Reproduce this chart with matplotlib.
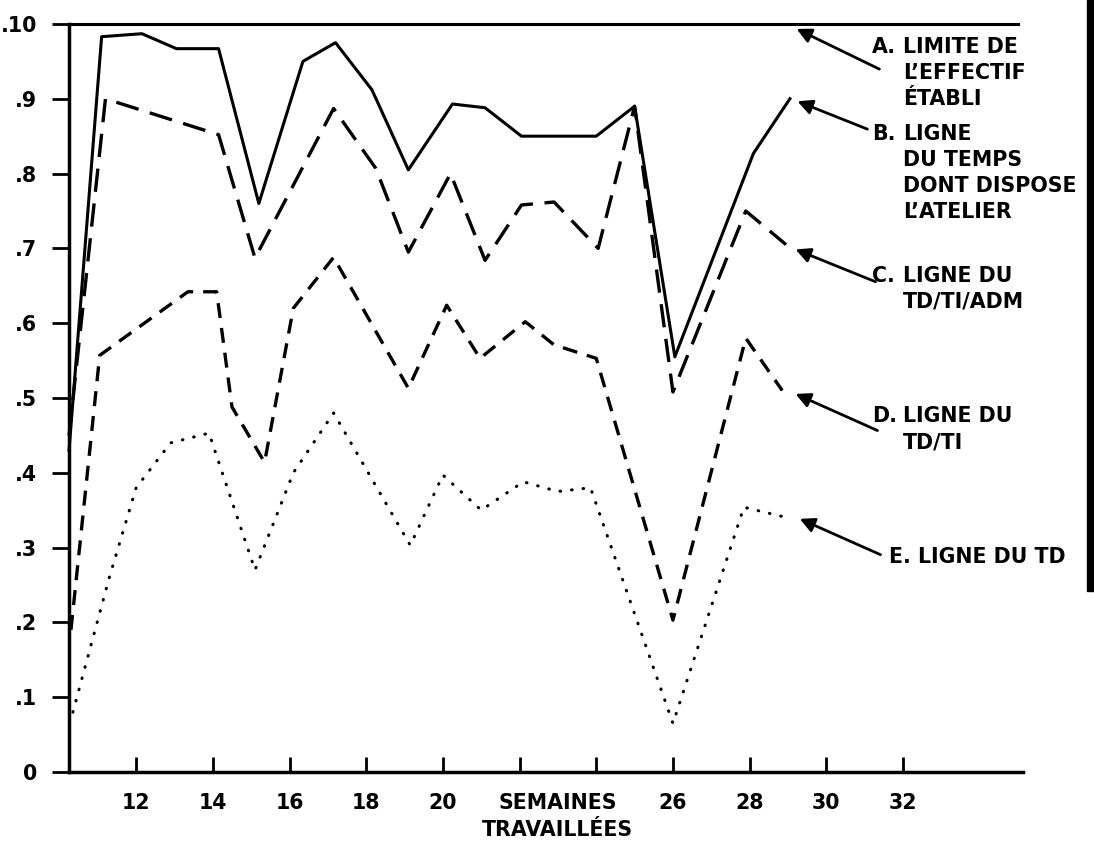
import numpy as np
import matplotlib.pyplot as plt
from matplotlib.patches import Rectangle

plt.rcParams['font.family'] = 'DejaVu Sans'
plt.rcParams['font.weight'] = 'bold'
plt.rcParams['font.size'] = 14.8

# A. limite de l'effectif etabli
weeks_a = [10.25, 35.0]
vals_a = [1.0, 1.0]

# B. ligne du temps dont dispose l'atelier
weeks_b = [10.25, 11.1, 12.15, 13.05, 14.15, 15.2, 16.35, 17.2, 18.15, 19.1,
           20.25, 21.1, 22.05, 24.0, 25.0, 26.05, 28.1, 29.05]
vals_b = [0.43, 0.983, 0.987, 0.967, 0.967, 0.76, 0.95, 0.975, 0.912, 0.805,
          0.893, 0.888, 0.85, 0.85, 0.89, 0.555, 0.827, 0.90]

# C. ligne du TD/TI/ADM
weeks_c = [10.25, 11.2, 14.15, 15.1, 17.15, 18.25, 19.1, 20.2, 21.1, 22.05,
           22.9, 24.05, 25.0, 26.0, 27.9, 28.95]
vals_c = [0.45, 0.90, 0.852, 0.687, 0.887, 0.807, 0.695, 0.80, 0.684, 0.758,
          0.762, 0.70, 0.89, 0.508, 0.75, 0.705]

# D. ligne du TD/TI
weeks_d = [10.3, 11.05, 13.35, 14.1, 14.5, 15.35, 16.1, 17.15, 19.1, 20.1,
           20.97, 22.15, 22.9, 24.0, 26.0, 27.9, 28.85]
vals_d = [0.19, 0.557, 0.642, 0.642, 0.488, 0.414, 0.62, 0.688, 0.513, 0.624,
          0.553, 0.602, 0.571, 0.553, 0.203, 0.58, 0.51]

# E. ligne du TD
weeks_e = [10.35, 11.3, 12.0, 12.9, 13.9, 15.1, 16.1, 17.15, 19.15, 20.0,
           21.0, 22.1, 23.0, 23.85, 26.0, 27.85, 28.9]
vals_e = [0.08, 0.26, 0.38, 0.44, 0.453, 0.27, 0.40, 0.48, 0.303, 0.397,
          0.35, 0.388, 0.375, 0.38, 0.065, 0.354, 0.341]

xtick_pos = [12, 14, 16, 18, 20, 22, 24, 26, 28, 30, 32]
xtick_labels = ['12', '14', '16', '18', '20', '', '', '26', '28', '30', '32']
ytick_pos = [0, 0.1, 0.2, 0.3, 0.4, 0.5, 0.6, 0.7, 0.8, 0.9, 1.0]
ytick_labels = ['0', '.1', '.2', '.3', '.4', '.5', '.6', '.7', '.8', '.9', '.10']

fig = plt.figure(figsize=(10.94, 8.44), dpi=100)
ax = fig.add_axes([0.0631, 0.0853, 0.872, 0.8863])

ax.plot(weeks_a, vals_a, color='black', lw=2.2, clip_on=False)
ax.plot(weeks_b, vals_b, color='black', lw=2.2, clip_on=False)
ax.plot(weeks_c, vals_c, color='black', lw=2.4, dashes=(7, 3.5), clip_on=False)
ax.plot(weeks_d, vals_d, color='black', lw=2.4, dashes=(4.5, 3), clip_on=False)
ax.plot(weeks_e, vals_e, color='black', lw=2.2, dashes=(0.2, 3.6),
        dash_capstyle='round', clip_on=False)

ax.set_xlim(10.25, 35.13)
ax.set_ylim(0, 1.0)

for side in ['top', 'right']:
    ax.spines[side].set_visible(False)
ax.spines['left'].set_linewidth(2.5)
ax.spines['bottom'].set_linewidth(2.5)

ax.set_xticks(xtick_pos, xtick_labels)
ax.tick_params(axis='x', direction='in', length=11, width=2, pad=15)
ax.set_xticks([23], ['SEMAINES\nTRAVAILLÉES'], minor=True)
ax.tick_params(axis='x', which='minor', length=0, pad=15)
for lab in ax.get_xticklabels(minor=True):
    lab.set_linespacing(1.45)

ax.set_yticks(ytick_pos, ytick_labels)
ax.tick_params(axis='y', direction='out', length=12, width=2, pad=11)

# Labels with arrows on the right
arrow_kw = dict(arrowstyle='-|>', color='black', lw=2, mutation_scale=22)
labels = [
    ('A.', 'LIMITE DE\nL’EFFECTIF\nÉTABLI', (29.16, 0.995), (31.45, 0.938), 0.983),
    ('B.', 'LIGNE\nDU TEMPS\nDONT DISPOSE\nL’ATELIER', (29.18, 0.898), (31.14, 0.858), 0.866),
    ('C.', 'LIGNE DU\nTD/TI/ADM', (29.13, 0.70), (31.35, 0.654), 0.677),
    ('D.', 'LIGNE DU\nTD/TI', (29.13, 0.507), (31.4, 0.455), 0.489),
]
for letter, body, tip, tail, ytext in labels:
    ax.annotate('', xy=tip, xytext=tail, arrowprops=arrow_kw, annotation_clip=False)
    ax.text(31.2, ytext, letter, ha='left', va='top')
    ax.text(32.0, ytext, body, ha='left', va='top', linespacing=1.38)

ax.annotate('', xy=(29.24, 0.34), xytext=(31.48, 0.289), arrowprops=arrow_kw,
            annotation_clip=False)
ax.text(31.63, 0.287, 'E. LIGNE DU TD', ha='left', va='center')

# scan border on the right edge
fig.add_artist(Rectangle((1087 / 1094, 0.30), 7 / 1094, 0.70,
                         transform=fig.transFigure, color='black'))

fig.savefig('out.png', dpi=100)
